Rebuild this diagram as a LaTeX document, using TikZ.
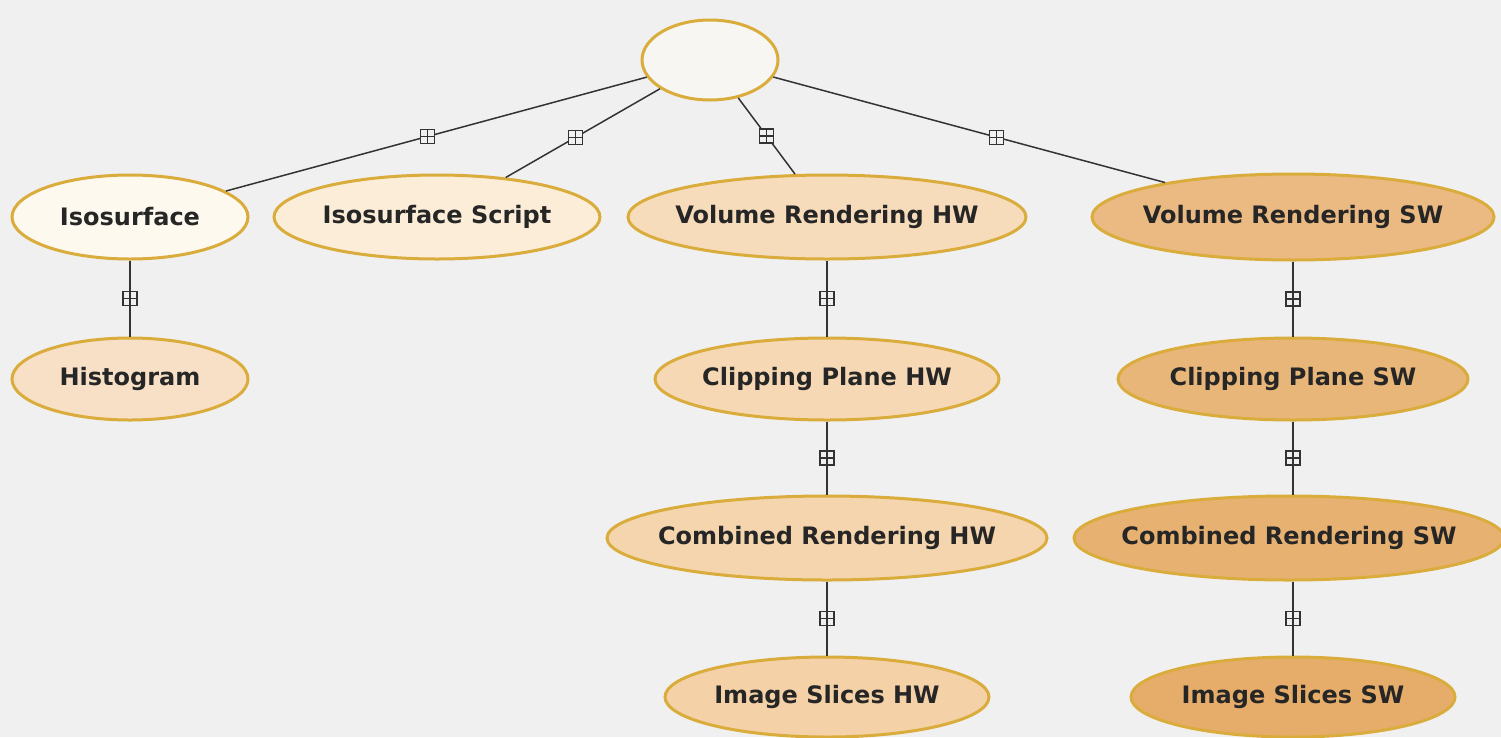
\documentclass[tikz,border=0pt]{standalone}
\usepackage{fontspec}
\setmainfont{DejaVu Sans}
\usetikzlibrary{shapes.geometric}
\definecolor{bg}{HTML}{F0F0F0}
\definecolor{rim}{HTML}{D9AC3C}
\definecolor{c0}{HTML}{F7F6F2}
\definecolor{c1}{HTML}{FEF9EF}
\definecolor{c2}{HTML}{FBEDD8}
\definecolor{c3}{HTML}{F8E0C6}
\definecolor{h1}{HTML}{F7DCBC}
\definecolor{h2}{HTML}{F6D8B5}
\definecolor{h3}{HTML}{F5D5AE}
\definecolor{h4}{HTML}{F4D1A7}
\definecolor{s1}{HTML}{EBBA82}
\definecolor{s2}{HTML}{E9B67A}
\definecolor{s3}{HTML}{E7B171}
\definecolor{s4}{HTML}{E6AD6A}
% label set in a zero-width box so the ellipse size comes from its minimum size
\newcommand\ovaltext[1]{\makebox[0pt]{#1}}
\tikzset{
  oval/.style={ellipse, draw=rim, line width=3pt, inner sep=0pt,
    font=\fontsize{24}{28}\selectfont\bfseries, text=black!85},
  link/.style={draw=black!80, line width=1.5pt},
  toggle/.style={rectangle, draw=black!80, fill=bg, line width=1.1pt,
    minimum width=14pt, minimum height=14pt, inner sep=0pt,
    path picture={
      \draw[black!80, line width=1.1pt]
        (path picture bounding box.north) -- (path picture bounding box.south)
        (path picture bounding box.west) -- (path picture bounding box.east);}},
}
\begin{document}
\begin{tikzpicture}[x=1pt, y=-1pt]
\fill[bg] (0,0) rectangle (1501,737);
\useasboundingbox (0,0) rectangle (1501,737);

% root and first row
\node[oval, fill=c0, minimum width=136pt, minimum height=80pt] (root) at (710,60) {};
\node[oval, fill=c1, minimum width=236pt, minimum height=84pt] (iso) at (130,217) {\ovaltext{Isosurface}};
\node[oval, fill=c2, minimum width=326pt, minimum height=84pt] (script) at (437,217) {\ovaltext{Isosurface Script}};
\node[oval, fill=h1, minimum width=398pt, minimum height=84pt] (vrhw) at (827,217) {\ovaltext{Volume Rendering HW}};
\node[oval, fill=s1, minimum width=402pt, minimum height=86pt] (vrsw) at (1293,217) {\ovaltext{Volume Rendering SW}};

% second row
\node[oval, fill=c3, minimum width=236pt, minimum height=82pt] (hist) at (130,379) {\ovaltext{Histogram}};
\node[oval, fill=h2, minimum width=344pt, minimum height=82pt] (cphw) at (827,379) {\ovaltext{Clipping Plane HW}};
\node[oval, fill=s2, minimum width=350pt, minimum height=82pt] (cpsw) at (1293,379) {\ovaltext{Clipping Plane SW}};

% third row
\node[oval, fill=h3, minimum width=440pt, minimum height=84pt] (crhw) at (827,538) {\ovaltext{Combined Rendering HW}};
\node[oval, fill=s3, minimum width=430pt, minimum height=84pt] (crsw) at (1289,538) {\ovaltext{Combined Rendering SW}};

% fourth row
\node[oval, fill=h4, minimum width=324pt, minimum height=80pt] (ishw) at (827,697) {\ovaltext{Image Slices HW}};
\node[oval, fill=s4, minimum width=324pt, minimum height=80pt] (issw) at (1293,697) {\ovaltext{Image Slices SW}};

% connectors with expand toggles
\draw[link] (root) -- (iso) node[toggle, pos=0.52] {};
\draw[link] (root) -- (script) node[toggle, pos=0.55] {};
\draw[link] (root) -- (vrhw) node[toggle, pos=0.5] {};
\draw[link] (root) -- (vrsw) node[toggle, pos=0.57] {};
\draw[link] (iso) -- (hist) node[toggle, pos=0.5] {};
\draw[link] (vrhw) -- (cphw) node[toggle, pos=0.5] {};
\draw[link] (cphw) -- (crhw) node[toggle, pos=0.5] {};
\draw[link] (crhw) -- (ishw) node[toggle, pos=0.5] {};
\draw[link] (vrsw) -- (cpsw) node[toggle, pos=0.5] {};
\draw[link] (cpsw) -- (crsw.north -| cpsw) node[toggle, pos=0.5] {};
\draw[link] (crsw.south -| issw) -- (issw) node[toggle, pos=0.5] {};
\end{tikzpicture}
\end{document}
